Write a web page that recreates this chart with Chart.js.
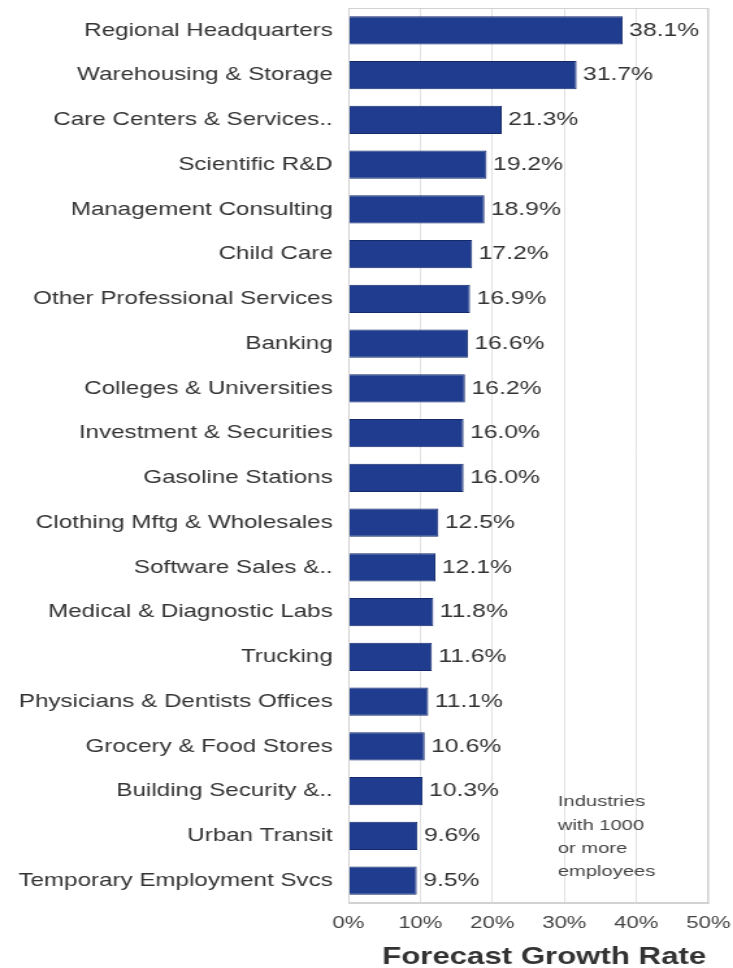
<!DOCTYPE html>
<html lang="en">
<head>
  <meta charset="UTF-8" />
  <title>Forecast Growth Rate</title>
  <script src="https://cdn.jsdelivr.net/npm/chart.js"></script>
  <style>
    html, body { margin: 0; padding: 0; background: #ffffff; overflow: hidden; }
    /* the reference is stretched sideways, so draw narrow and widen it */
    #wrap { width: 564px; height: 968px; transform: scaleX(1.2997); transform-origin: 0 0; }
  </style>
</head>
<body>
  <div id="wrap"><canvas id="growthChart"></canvas></div>

  <script>
    const industries = [
      "Regional Headquarters", "Warehousing & Storage", "Care Centers & Services..",
      "Scientific R&D", "Management Consulting", "Child Care",
      "Other Professional Services", "Banking", "Colleges & Universities",
      "Investment & Securities", "Gasoline Stations", "Clothing Mftg & Wholesales",
      "Software Sales &..", "Medical & Diagnostic Labs", "Trucking",
      "Physicians & Dentists Offices", "Grocery & Food Stores", "Building Security &..",
      "Urban Transit", "Temporary Employment Svcs"
    ];
    const growth = [38.1, 31.7, 21.3, 19.2, 18.9, 17.2, 16.9, 16.6, 16.2, 16.0,
                    16.0, 12.5, 12.1, 11.8, 11.6, 11.1, 10.6, 10.3, 9.6, 9.5];
    const xTicks = [0, 10, 20, 30, 40, 50];
    const noteLines = ["Industries", "with 1000", "or more", "employees"];
    const axisTitle = "Forecast Growth Rate";

    const FONT = "'Liberation Sans', Arial, sans-serif";

    // value labels, corner note and the axis title
    const extras = {
      id: "extras",
      afterDatasetsDraw(chart) {
        const ctx = chart.ctx;
        const meta = chart.getDatasetMeta(0);
        const x = chart.scales.x;
        const y = chart.scales.y;
        ctx.save();
        ctx.font = "19px " + FONT;
        ctx.fillStyle = "#333";
        ctx.textAlign = "left";
        ctx.textBaseline = "middle";
        meta.data.forEach((bar, i) => {
          ctx.fillText(growth[i].toFixed(1) + "%", bar.x + 5, bar.y);
        });

        ctx.font = "15.5px " + FONT;
        ctx.fillStyle = "#444";
        const left = x.getPixelForValue(29.1);
        const top = y.getPixelForValue(17) + 11;
        noteLines.forEach((t, i) => ctx.fillText(t, left, top + i * 23.3));

        ctx.font = "bold 24px " + FONT;
        ctx.fillStyle = "#333";
        ctx.textAlign = "center";
        ctx.textBaseline = "alphabetic";
        ctx.fillText(axisTitle, x.getPixelForValue(27.2), chart.height - 4);
        ctx.restore();
      },
      afterDraw(chart) {
        const a = chart.chartArea, ctx = chart.ctx;
        ctx.save();
        ctx.strokeStyle = "#d2d2d2";
        ctx.lineWidth = 1;
        ctx.strokeRect(a.left + 0.5, a.top + 0.5, a.right - a.left - 1, a.bottom - a.top - 1);
        ctx.restore();
      }
    };

    new Chart(document.getElementById("growthChart"), {
      type: "bar",
      data: {
        labels: industries,
        datasets: [{
          data: growth,
          backgroundColor: "#1f3c8e",
          borderColor: "#132a6c",
          borderWidth: 1,
          categoryPercentage: 1,
          barPercentage: 0.63
        }]
      },
      options: {
        indexAxis: "y",
        responsive: true,
        maintainAspectRatio: false,
        animation: false,
        layout: { autoPadding: false, padding: { top: 8, right: 19, bottom: 35, left: 8 } },
        plugins: {
          legend: { display: false },
          tooltip: { enabled: false }
        },
        scales: {
          x: {
            min: xTicks[0],
            max: xTicks[xTicks.length - 1],
            afterBuildTicks: axis => { axis.ticks = xTicks.map(v => ({ value: v })); },
            afterFit: axis => { axis.height = 30; axis.paddingLeft = 0; axis.paddingRight = 0; },
            grid: { color: "#e2e2e2", drawTicks: false },
            border: { color: "#d2d2d2" },
            ticks: {
              padding: 10,
              color: "#444",
              font: { size: 17, family: FONT },
              callback: v => v + "%"
            }
          },
          y: {
            grid: { display: false, drawTicks: false },
            border: { color: "#d2d2d2" },
            afterFit: axis => { axis.width = 260; axis.paddingTop = 0; axis.paddingBottom = 0; },
            ticks: {
              padding: 12,
              color: "#333",
              font: { size: 18.6, family: FONT },
              autoSkip: false
            }
          }
        }
      },
      plugins: [extras]
    });
  </script>
</body>
</html>
